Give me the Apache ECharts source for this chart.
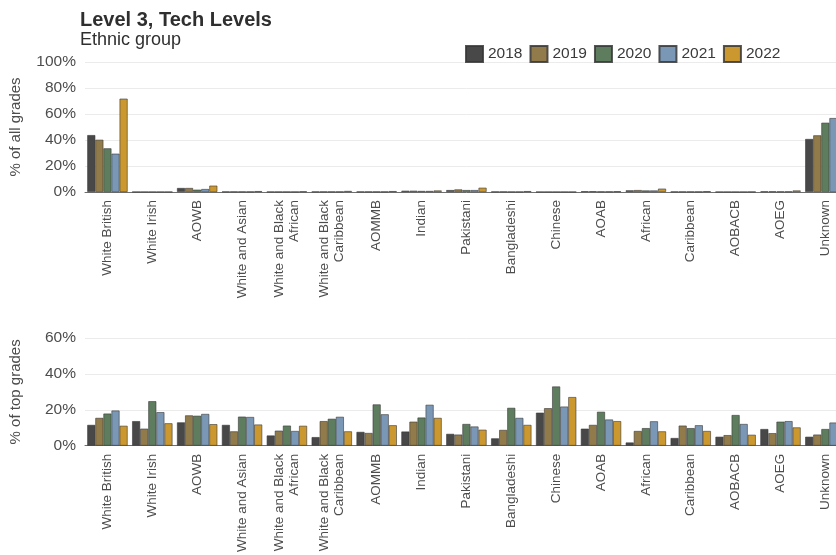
<!DOCTYPE html>
<html>
<head>
<meta charset="utf-8">
<script src="https://cdn.jsdelivr.net/npm/echarts@6/dist/echarts.min.js"></script>
<style>
html,body{margin:0;padding:0;background:#fff;overflow:hidden;width:836px;height:555px;}
#chart{width:880px;height:555px;}
</style>
</head>
<body>
<div id="chart"></div>
<script>
const categories = ["White British","White Irish","AOWB","White and Asian","White and Black\nAfrican","White and Black\nCaribbean","AOMMB","Indian","Pakistani","Bangladeshi","Chinese","AOAB","African","Caribbean","AOBACB","AOEG","Unknown"];
const years = ["2018","2019","2020","2021","2022"];
const colors = ["#484848","#927b4b","#5e7c5e","#7b97b6","#cb982f"];

// % of all grades
const all2018 = [43.8,0.1,3.1,0.3,0.2,0.3,0.3,1.0,1.5,0.3,0.1,0.6,1.3,0.3,0.1,0.5,40.8];
const all2019 = [40.2,0.1,3.1,0.3,0.2,0.3,0.3,1.0,2.0,0.3,0.1,0.6,1.5,0.3,0.1,0.5,43.6];
const all2020 = [33.6,0.1,1.8,0.3,0.2,0.3,0.3,0.8,1.5,0.2,0.1,0.4,1.2,0.3,0.1,0.4,53.3];
const all2021 = [29.5,0.1,2.3,0.3,0.2,0.3,0.3,0.8,1.5,0.2,0.1,0.4,1.2,0.3,0.1,0.4,56.9];
const all2022 = [71.8,0.1,4.9,0.7,0.5,0.8,0.7,1.2,3.3,0.7,0.1,0.6,2.6,0.6,0.2,1.2,12.0];

// % of top grades
const top2018 = [11.6,13.7,13.0,11.6,5.7,4.8,7.7,7.9,6.6,4.1,18.4,9.5,1.8,4.3,5.0,9.3,5.0];
const top2019 = [15.5,9.5,16.9,8.0,8.4,13.7,7.1,13.4,6.2,8.8,20.9,11.6,8.2,11.2,5.9,7.0,6.2];
const top2020 = [17.9,24.8,16.7,16.2,11.2,15.0,23.0,15.7,12.1,21.1,33.0,18.9,9.8,9.8,17.1,13.4,9.3];
const top2021 = [19.6,18.7,17.7,16.0,8.2,16.1,17.5,22.8,10.7,15.5,21.8,14.6,13.6,11.4,12.1,13.7,12.9];
const top2022 = [11.1,12.5,12.0,11.8,11.1,8.0,11.4,15.5,8.9,11.6,27.1,13.7,8.0,8.2,6.1,10.2,11.0];

const allSeries = [all2018,all2019,all2020,all2021,all2022];
const topSeries = [top2018,top2019,top2020,top2021,top2022];

const FONT = "'Liberation Sans', Arial, sans-serif";
const labelColor = "#4d4d4d";

function xAxisFor(gi){
  return {
    type:'category', gridIndex:gi, data:categories,
    axisTick:{show:false},
    axisLine:{show:true, lineStyle:{color:'#6f6f6f', width:1}},
    axisLabel:{rotate:90, fontSize:13.5, color:labelColor, fontFamily:FONT, margin:8, lineHeight:15, interval:0}
  };
}
function yAxisFor(gi, max, name){
  return {
    type:'value', gridIndex:gi, min:0, max:max, interval:20,
    name:name, nameLocation:'middle', nameGap:62,
    nameTextStyle:{fontSize:15, color:labelColor, fontFamily:FONT},
    axisLine:{show:false}, axisTick:{show:false},
    axisLabel:{formatter:'{value}%', fontSize:15.5, color:labelColor, fontFamily:FONT, margin:9},
    splitLine:{lineStyle:{color:'#ebebeb', width:1}}
  };
}

const series = [];
years.forEach((y,i)=>{
  series.push({
    name:y, type:'bar', xAxisIndex:0, yAxisIndex:0, data:allSeries[i],
    barGap:'0%', barCategoryGap:'10%',
    itemStyle:{color:colors[i], borderColor:'rgba(55,55,55,0.85)', borderWidth:0.7}
  });
});
years.forEach((y,i)=>{
  series.push({
    name:y, type:'bar', xAxisIndex:1, yAxisIndex:1, data:topSeries[i],
    barGap:'0%', barCategoryGap:'10%',
    itemStyle:{color:colors[i], borderColor:'rgba(55,55,55,0.85)', borderWidth:0.7}
  });
});

const chart = echarts.init(document.getElementById('chart'), null, {renderer:'canvas'});
chart.setOption({
  animation:false,
  backgroundColor:'#fff',
  title:[
    {text:'Level 3, Tech Levels', left:80, top:10, padding:0, textStyle:{fontSize:20, fontWeight:'bold', color:'#2f2f2f', fontFamily:FONT}},
    {text:'Ethnic group', left:80, top:31, padding:0, textStyle:{fontSize:18, fontWeight:'normal', color:'#2f2f2f', fontFamily:FONT}}
  ],
  legend:{
    data:years, left:465, top:45, padding:0, icon:'rect', itemWidth:17, itemHeight:16, itemGap:7, itemTextGap:6,
    textStyle:{fontSize:15.5, color:'#3a3a3a', fontFamily:FONT}
  },
  grid:[
    {left:84.5, top:62, width:763.3, height:130},
    {left:84.5, top:338, width:763.3, height:112}
  ],
  xAxis:[xAxisFor(0), xAxisFor(1)],
  yAxis:[yAxisFor(0,100,'% of all grades'), yAxisFor(1,60,'% of top grades')],
  series:series
});
</script>
</body>
</html>
